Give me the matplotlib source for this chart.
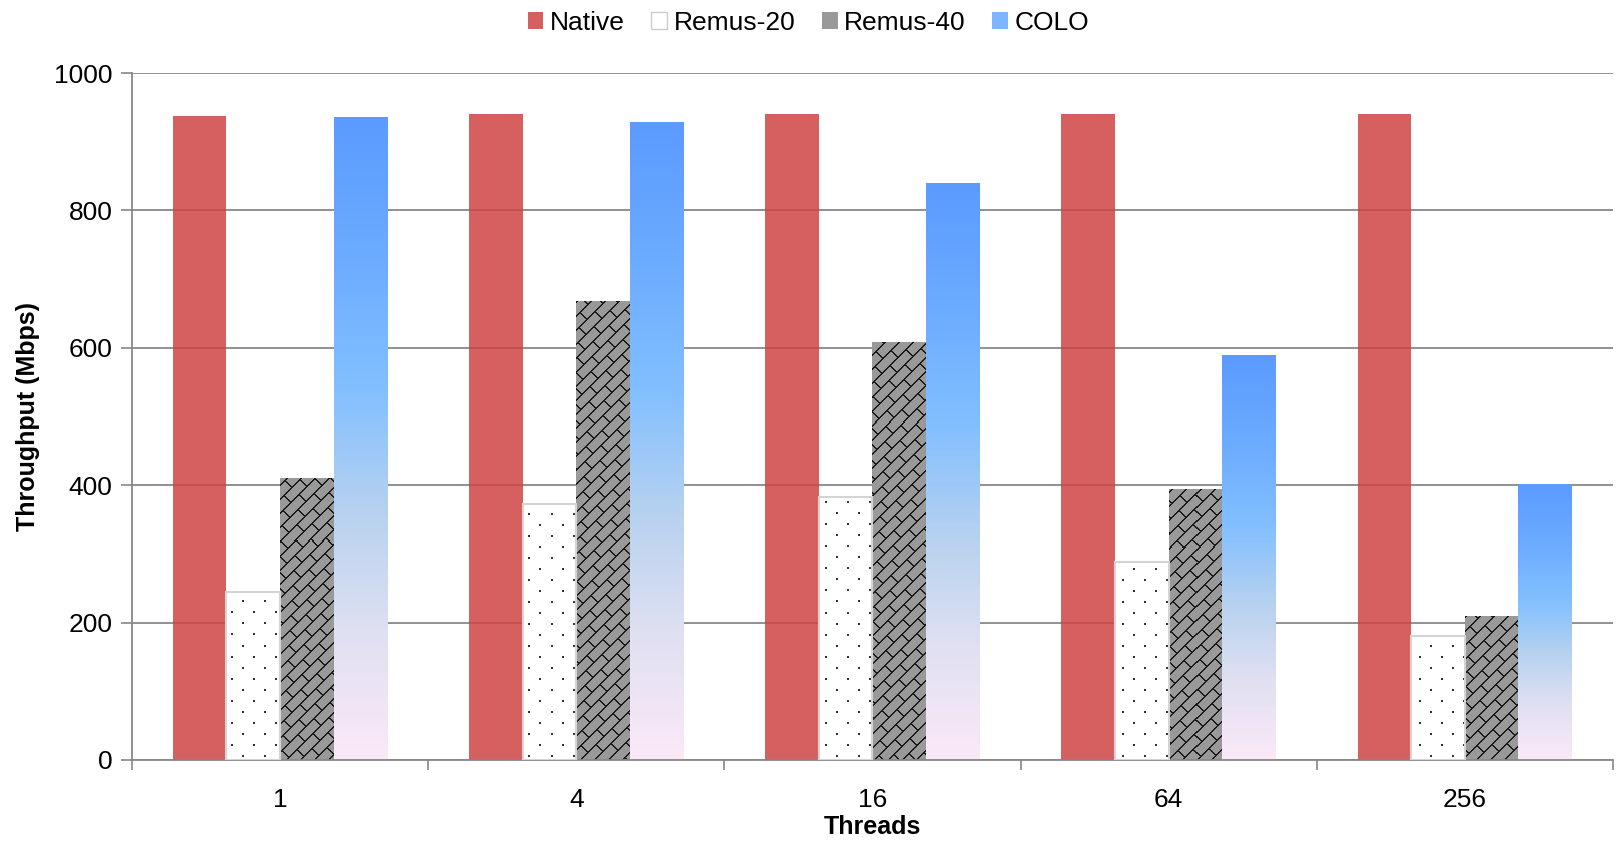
import numpy as np
import matplotlib.pyplot as plt
from matplotlib.colors import LinearSegmentedColormap, ListedColormap
from matplotlib.patches import Patch

plt.rcParams['font.family'] = ['Liberation Sans', 'DejaVu Sans']

threads = ['1', '4', '16', '64', '256']
native = [937, 941, 941, 941, 941]
remus20 = [245, 372, 383, 288, 180]
remus40 = [411, 668, 609, 395, 209]
colo = [935, 928, 839, 589, 401]

fig = plt.figure(figsize=(16.17, 8.42), dpi=100)
ax = fig.add_axes([0.0816, 0.0974, 0.9159, 0.8159])

x = np.arange(len(threads))
w = 0.181
XLIM = (-0.5, len(threads) - 0.5)
YLIM = (0, 1000)

# pixel textures covering the whole axes, clipped to the bars later
H, W = 687, 1481
yy, xx = np.mgrid[0:H, 0:W]

# brick pattern for Remus-40
s = xx + yy
row = s // 14
brick_line = (s % 14) < 2
brick_seg = ((xx - yy + (row % 2) * 16) % 32) < 2
brick = np.where(brick_line | brick_seg, 1, 0)
brick_cmap = ListedColormap(['#999999', '#1a1a1a'])

# dotted pattern for Remus-20
drow = yy // 11
dots = ((yy % 11) < 2) & (((xx + (drow % 2) * 11) % 22) < 2)
dots = np.where(dots, 1, 0)
dot_cmap = ListedColormap(['#ffffff', '#333333'])

colo_cmap = LinearSegmentedColormap.from_list('colo', [
    (0.0, '#fbe9f8'), (0.2, '#dfe0f2'), (0.38, '#b8d2ef'),
    (0.58, '#82bfff'), (0.8, '#6aaaff'), (1.0, '#5b9bff')])

ax.bar(x - 1.5 * w, native, w, color=(207 / 255, 68 / 255, 68 / 255), alpha=0.85,
       linewidth=0, zorder=1)

bars20 = ax.bar(x - 0.5 * w, remus20, w, facecolor='none', edgecolor='#d4d4d4',
                linewidth=1.5, zorder=3)
for b in bars20:
    im = ax.imshow(dots, cmap=dot_cmap, extent=(*XLIM, *YLIM), aspect='auto',
                   interpolation='nearest', zorder=2)
    im.set_clip_path(b)

bars40 = ax.bar(x + 0.5 * w, remus40, w, facecolor='none', linewidth=0, zorder=3)
for b in bars40:
    im = ax.imshow(brick, cmap=brick_cmap, extent=(*XLIM, *YLIM), aspect='auto',
                   interpolation='nearest', zorder=2)
    im.set_clip_path(b)

grad = np.linspace(1, 0, 256).reshape(-1, 1)
for xi, h in zip(x, colo):
    ax.imshow(grad, cmap=colo_cmap, extent=(xi + w, xi + 2 * w, 0, h),
              aspect='auto', zorder=2)

ax.set_xlim(*XLIM)
ax.set_ylim(*YLIM)

ax.set_xticks(x)
ax.set_xticklabels(threads, fontsize=19)
ax.set_xticks(np.arange(-0.5, len(threads)), minor=True)
ax.tick_params(axis='x', which='major', length=0, pad=20)
ax.tick_params(axis='x', which='minor', length=7, width=1.2, color='#888888')
ax.set_yticks(np.arange(0, 1001, 200))
ax.tick_params(axis='y', labelsize=19, length=8, width=1.2, color='#888888', pad=6)

ax.yaxis.grid(True, color='#888888', linewidth=1.3, zorder=0.5)
ax.set_axisbelow(True)
for sp in ['top', 'right']:
    ax.spines[sp].set_visible(False)
for sp in ['left', 'bottom']:
    ax.spines[sp].set_color('#888888')
    ax.spines[sp].set_linewidth(1.3)

ax.set_xlabel('Threads', fontsize=18, fontweight='bold', labelpad=2)
ax.set_ylabel('Throughput (Mbps)', fontsize=18, fontweight='bold', labelpad=10)

handles = [
    Patch(facecolor='#d66060', edgecolor='none', label='Native'),
    Patch(facecolor='white', edgecolor='#cccccc', label='Remus-20'),
    Patch(facecolor='#999999', edgecolor='none', hatch='//', label='Remus-40'),
    Patch(facecolor='#7fb5ff', edgecolor='none', label='COLO'),
]
fig.legend(handles=handles, loc='upper center', bbox_to_anchor=(0.5, 1.015), ncol=4,
           frameon=False, fontsize=19, handlelength=0.6, handleheight=0.6,
           handletextpad=0.25, columnspacing=1.0)

fig.savefig('out.png', dpi=100)
